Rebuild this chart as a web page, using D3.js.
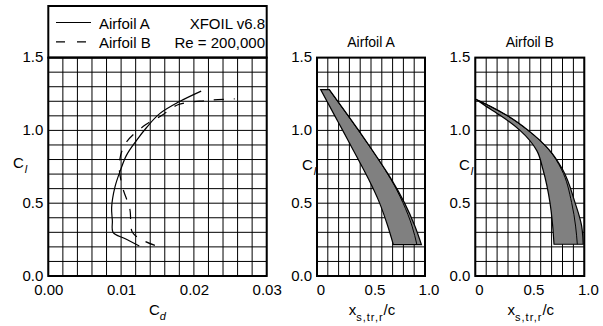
<!DOCTYPE html>
<html>
<head>
<meta charset="utf-8">
<script src="https://cdn.jsdelivr.net/npm/d3@7"></script>
<style>
    body { margin: 0; background: #fff; }
    svg text { font-family: "Liberation Sans", Arial, sans-serif; fill: #000; }
</style>
</head>
<body>
<svg id="chart" width="603" height="326"></svg>
<script>
// Drag polars (Cl vs Cd)
const polarA_cd = [0.0125, 0.0105, 0.0089, 0.0088, 0.0087, 0.00915, 0.0099, 0.01075, 0.0121, 0.0135, 0.0153, 0.0181, 0.0210];
const polarA_cl = [0.206, 0.257, 0.30, 0.38, 0.47, 0.61, 0.725, 0.83, 0.93, 1.02, 1.115, 1.20, 1.27];
const polarB_cd = [0.01464, 0.0130, 0.01155, 0.0112, 0.0102, 0.00975, 0.0106, 0.0134, 0.0155, 0.0178, 0.0217, 0.0256];
const polarB_cl = [0.21, 0.245, 0.30, 0.46, 0.61, 0.77, 0.91, 1.04, 1.10, 1.176, 1.205, 1.217];

// Separation / transition / reattachment locations
const trA_cl = [0.215, 0.343, 0.504, 0.664, 0.733, 0.893, 1.0, 1.10, 1.28];
const trA_xs = [0.707, 0.655, 0.578, 0.478, 0.43, 0.315, 0.238, 0.165, 0.034];
const trA_xtr = [0.925, 0.88, 0.795, 0.684, 0.627, 0.483, 0.383, 0.287, 0.112];
const trA_xr = [0.967, 0.906, 0.809, 0.689, 0.63, 0.486, 0.386, 0.29, 0.114];

const trB_cl = [0.218, 0.343, 0.504, 0.733, 0.863, 1.0, 1.104, 1.165, 1.215];
const trB_xs = [0.722, 0.71, 0.685, 0.62, 0.563, 0.41, 0.227, 0.1, 0.0];
const trB_xtr = [0.936, 0.92, 0.884, 0.79, 0.679, 0.483, 0.286, 0.137, 0.0];
const trB_xr = [0.99, 0.976, 0.915, 0.80, 0.682, 0.486, 0.288, 0.139, 0.0];

// Ticks and labels
const cdTicks = [0, 0.01, 0.02, 0.03];
const clTicks = [0, 0.5, 1.0, 1.5];
const xcTicks = [0, 0.5, 1.0];
const legendNames = ["Airfoil A", "Airfoil B"];
const legendInfo = ["XFOIL v6.8", "Re = 200,000"];
const panelTitles = ["Airfoil A", "Airfoil B"];

const svg = d3.select("#chart");
const font = '"Liberation Sans", Arial, sans-serif';

// scales
const y = d3.scaleLinear().domain([0, 1.5]).range([276, 57.6]);
const xCd = d3.scaleLinear().domain([0, 0.03]).range([48.3, 266.7]);
const xA = d3.scaleLinear().domain([0, 1]).range([317, 425]);
const xB = d3.scaleLinear().domain([0, 1]).range([475.3, 584.3]);

function drawGrid(x, xStep) {
    const g = svg.append("g");
    const [x0, x1] = x.domain();
    g.selectAll("line.v")
        .data(d3.range(x0, x1 + xStep / 2, xStep))
        .enter()
        .append("line")
        .attr("x1", (d) => x(d))
        .attr("x2", (d) => x(d))
        .attr("y1", y(0))
        .attr("y2", y(1.5))
        .attr("stroke", "#000")
        .attr("stroke-width", 1);
    g.selectAll("line.h")
        .data(d3.range(0, 1.55, 0.1))
        .enter()
        .append("line")
        .attr("x1", x.range()[0])
        .attr("x2", x.range()[1])
        .attr("y1", (d) => y(d))
        .attr("y2", (d) => y(d))
        .attr("stroke", "#000")
        .attr("stroke-width", 1);
}

function drawFrame(x) {
    svg.append("rect")
        .attr("x", x.range()[0])
        .attr("y", y(1.5))
        .attr("width", x.range()[1] - x.range()[0])
        .attr("height", y(0) - y(1.5))
        .attr("fill", "none")
        .attr("stroke", "#000")
        .attr("stroke-width", 2);
}

function drawAxes(x, xFormat, dx) {
    const ax = svg.append("g")
        .attr("transform", `translate(${dx},${y(0)})`)
        .call(d3.axisBottom(x).tickValues(x === xCd ? cdTicks : xcTicks).tickFormat(xFormat).tickSize(0).tickPadding(8));
    ax.select(".domain").remove();
    ax.attr("font-size", 15).attr("font-family", font);

    const ay = svg.append("g")
        .attr("transform", `translate(${x.range()[0] - 1},0)`)
        .call(d3.axisLeft(y).tickValues(clTicks).tickFormat(d3.format(".1f")).tickSize(0).tickPadding(4));
    ay.select(".domain").remove();
    ay.attr("font-size", 15).attr("font-family", font);
    ay.selectAll("text").attr("dy", "0.28em");
}

function clLabel(xPos, yPos) {
    const t = svg.append("text").attr("x", xPos).attr("y", yPos).attr("font-size", 15);
    t.append("tspan").text("C");
    t.append("tspan").attr("dx", 1).attr("dy", 5).attr("font-size", 11).attr("font-style", "italic").text("l");
}

function xcLabel(cx) {
    const t = svg.append("text").attr("x", cx).attr("y", 315).attr("font-size", 15).attr("text-anchor", "middle");
    t.append("tspan").text("x");
    t.append("tspan").attr("dy", 6).attr("font-size", 11).attr("letter-spacing", 1).text("s,tr,r");
    t.append("tspan").attr("dy", -6).text("/c");
}

// ---- left panel: drag polar
drawGrid(xCd, 0.002);
drawFrame(xCd);
drawAxes(xCd, d3.format(".2f"), 0);

const polarLine = d3.line()
    .x((d) => xCd(d[0]))
    .y((d) => y(d[1]))
    .curve(d3.curveCatmullRom.alpha(0.5));

svg.append("path")
    .datum(d3.zip(polarA_cd, polarA_cl))
    .attr("d", polarLine)
    .attr("fill", "none")
    .attr("stroke", "#000")
    .attr("stroke-width", 1.2);

svg.append("path")
    .datum(d3.zip(polarB_cd, polarB_cl))
    .attr("d", polarLine)
    .attr("fill", "none")
    .attr("stroke", "#000")
    .attr("stroke-width", 1.2)
    .attr("stroke-dasharray", "10,10");

// legend box
svg.append("rect")
    .attr("x", xCd.range()[0])
    .attr("y", 6)
    .attr("width", xCd.range()[1] - xCd.range()[0])
    .attr("height", y(1.5) - 6)
    .attr("fill", "none")
    .attr("stroke", "#000")
    .attr("stroke-width", 2);

legendNames.forEach(function (name, i) {
    const base = i === 0 ? 29 : 48.3;
    svg.append("line")
        .attr("x1", 56)
        .attr("x2", 91)
        .attr("y1", base - 6.5)
        .attr("y2", base - 6.5)
        .attr("stroke", "#000")
        .attr("stroke-width", 1.2)
        .attr("stroke-dasharray", i === 0 ? null : "9,12");
    svg.append("text").attr("x", 99).attr("y", base).attr("font-size", 15).text(name);
    svg.append("text").attr("x", 265).attr("y", base).attr("font-size", 15).attr("text-anchor", "end").text(legendInfo[i]);
});

clLabel(13, 168);
const cd = svg.append("text").attr("x", 157.5).attr("y", 315).attr("font-size", 15).attr("text-anchor", "middle");
cd.append("tspan").text("C");
cd.append("tspan").attr("dy", 5).attr("font-size", 11).attr("font-style", "italic").text("d");

// ---- transition panels
const xcFormat = (d) => (d === 0 ? "0" : d3.format(".1f")(d));

function drawTransition(x, cl, xs, xtr, xr, title, labelX) {
    drawGrid(x, 0.1);

    const rows = cl.map((c, i) => ({ cl: c, xs: xs[i], xtr: xtr[i], xr: xr[i] }));
    const band = d3.area()
        .y((d) => y(d.cl))
        .x0((d) => x(d.xs))
        .x1((d) => x(d.xr))
        .curve(d3.curveMonotoneY);
    svg.append("path")
        .datum(rows)
        .attr("d", band)
        .attr("fill", "#808080")
        .attr("stroke", "#000")
        .attr("stroke-width", 1.2);

    const trLine = d3.line()
        .y((d) => y(d.cl))
        .x((d) => x(d.xtr))
        .curve(d3.curveMonotoneY);
    svg.append("path")
        .datum(rows)
        .attr("d", trLine)
        .attr("fill", "none")
        .attr("stroke", "#000")
        .attr("stroke-width", 1);

    drawFrame(x);
    drawAxes(x, xcFormat, 3.5);

    svg.append("text")
        .attr("x", (x.range()[0] + x.range()[1]) / 2)
        .attr("y", 47)
        .attr("font-size", 14)
        .attr("text-anchor", "middle")
        .text(title);

    clLabel(labelX, 170);
    xcLabel((x.range()[0] + x.range()[1]) / 2 + 1);
}

drawTransition(xA, trA_cl, trA_xs, trA_xtr, trA_xr, panelTitles[0], 302);
drawTransition(xB, trB_cl, trB_xs, trB_xtr, trB_xr, panelTitles[1], 459);
</script>
</body>
</html>
